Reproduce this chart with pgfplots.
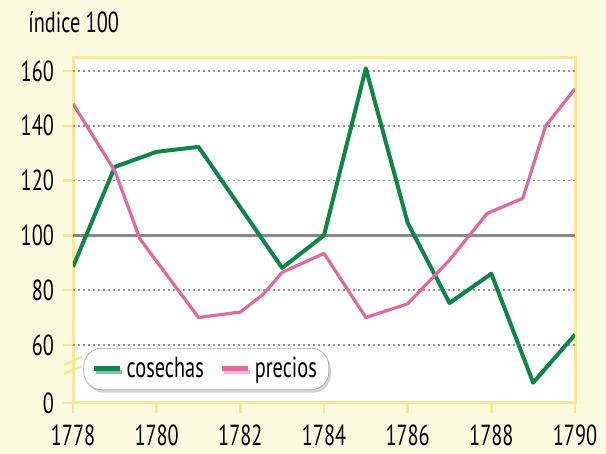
\documentclass[border=0pt]{standalone}
\usepackage{pgfplots}
\pgfplotsset{compat=1.18}
\usetikzlibrary{shadows}
\usepackage{fontspec}
\setmainfont{PT Sans}[FakeStretch=0.7]
\definecolor{cream}{RGB}{252,250,222}
\definecolor{frame}{RGB}{244,234,150}
\definecolor{cgreen}{RGB}{12,135,72}
\definecolor{cpink}{RGB}{226,104,162}
\definecolor{gridc}{RGB}{150,150,150}
\definecolor{hundred}{RGB}{135,135,135}

\begin{document}
\begin{tikzpicture}[font=\fontsize{14.5}{16}\selectfont]
\fill[cream] (0,0) rectangle (303pt,227pt);
\useasboundingbox (0,0) rectangle (303pt,227pt);
\node[anchor=base west, inner sep=0pt] at (14pt,210.5pt) {índice 100};
\begin{axis}[
  at={(36.5pt,25.5pt)}, anchor=south west,
  scale only axis, width=251pt, height=172.5pt,
  xmin=1778, xmax=1790, ymin=38.8, ymax=164.75,
  xtick={1778,1780,1782,1784,1786,1788,1790},
  xticklabels={1778,1780,1782,1784,1786,1788,1790},
  ytick={38.8,60,80,100,120,140,160},
  yticklabels={0,60,80,100,120,140,160},
  ticklabel style={font=\fontsize{14.5}{16}\selectfont},
  xticklabel style={yshift=-4.5pt, inner sep=1pt},
  yticklabel style={xshift=-1pt},
  /pgf/number format/assume math mode=true,
  axis line style={frame, line width=1.5pt},
  tick style={frame, line width=1.2pt},
  tick align=outside, major tick length=5pt,
  xtick pos=bottom, ytick pos=left,
  axis background/.style={fill=white},
  clip mode=individual,
  legend style={at={(0.2655,0.0986)}, anchor=center, draw=gray!60, fill=white,
    rounded corners=9pt, drop shadow={shadow xshift=1pt, shadow yshift=-1.5pt, fill=gray!70},
    inner xsep=4pt, inner ysep=2.5pt, font=\fontsize{14.5}{16}\selectfont,
    /tikz/every even column/.append style={column sep=6pt}},
  legend columns=2,
  legend image code/.code={\draw[#1, line width=2.5pt] (0pt,0pt) -- (13pt,0pt);},
]
\draw[gridc, line width=0.9pt, dash pattern=on 0.9pt off 1.6pt] (axis cs:1778,60) -- (axis cs:1790,60);
\draw[gridc, line width=0.9pt, dash pattern=on 0.9pt off 1.6pt] (axis cs:1778,80) -- (axis cs:1790,80);
\draw[gridc, line width=0.9pt, dash pattern=on 0.9pt off 1.6pt] (axis cs:1778,120) -- (axis cs:1790,120);
\draw[gridc, line width=0.9pt, dash pattern=on 0.9pt off 1.6pt] (axis cs:1778,140) -- (axis cs:1790,140);
\draw[gridc, line width=0.9pt, dash pattern=on 0.9pt off 1.6pt] (axis cs:1778,160) -- (axis cs:1790,160);
\draw[hundred, line width=1.8pt] (axis cs:1778,100) -- (axis cs:1790,100);
\draw[frame, line width=1.2pt] (axis cs:1778,52.7) ++(-4.5pt,-4.5pt) -- ++(9pt,4pt);
\draw[frame, line width=1.2pt] (axis cs:1778,52.7) ++(-4.5pt,0pt) -- ++(9pt,4pt);
\addplot[cgreen, line width=2pt, line join=round] coordinates {
(1778,88.5) (1779,125) (1780,130.5) (1781,132.3) (1782,110.2) (1783,88.1) (1784,100)
(1785,161) (1786,104.6) (1787,75.3) (1788,86) (1789,46.2) (1790,63.8)};
\addlegendentry{cosechas}
\addplot[cpink, line width=1.6pt, line join=round] coordinates {
(1778,148) (1779,123.5) (1779.6,98.7) (1781,70) (1782,72) (1782.55,78.5) (1783,86.5)
(1784,93.4) (1785,70) (1786,75) (1787,91) (1787.9,108) (1788.75,113.5) (1789.3,140) (1790,153.5)};
\addlegendentry{precios}
\end{axis}
\end{tikzpicture}
\end{document}
